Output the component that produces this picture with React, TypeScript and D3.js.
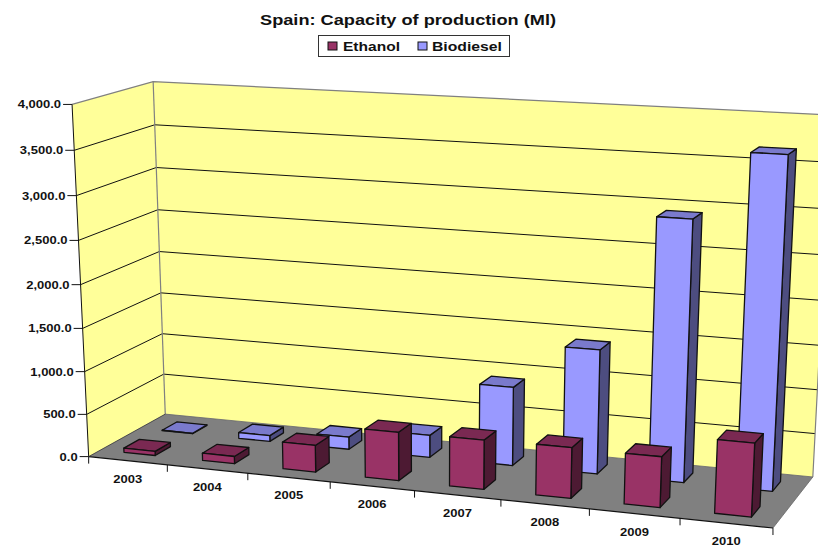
import React from "react";
import * as d3 from "d3";

const W = 818;
const H = 547;

const years = ["2003", "2004", "2005", "2006", "2007", "2008", "2009", "2010"];
const ethanol = [50, 85, 310, 555, 560, 570, 565, 810];
const biodiesel = [5, 70, 145, 260, 910, 1420, 2930, 3670];
const valueTicks = [0, 500, 1000, 1500, 2000, 2500, 3000, 3500, 4000];

const COLORS = {
  wall: "#ffff99",
  floor: "#808080",
  ethanol: { front: "#993366", top: "#7a2952", side: "#4d1a33" },
  biodiesel: { front: "#9999ff", top: "#7a7acc", side: "#4d4d80" },
};

// Calibration of the 3D box: (category, depth, height) in unit space to screen position.
const anchors: [number, number, number, number, number][] = [
  [0, 0, 0, 89, 457],
  [1, 0, 0, 773, 528],
  [0, 1, 0, 165, 414],
  [1, 1, 0, 813, 477],
  [0, 0, 1, 72, 104],
  [0, 1, 1, 153, 82],
  [1, 1, 1, 832, 116],
  [0.125, 0, 0, 168, 465],
  [0.5, 0, 0, 414, 491],
  [0.75, 0, 0, 589, 509],
  [0, 0, 0.5, 80.5, 284],
  [1, 1, 0.5, 822, 299],
];

function solve(A: number[][], b: number[]): number[] {
  const n = b.length;
  const M = A.map((row, i) => [...row, b[i]]);
  for (let c = 0; c < n; c++) {
    let p = c;
    for (let r = c + 1; r < n; r++) if (Math.abs(M[r][c]) > Math.abs(M[p][c])) p = r;
    [M[c], M[p]] = [M[p], M[c]];
    for (let r = 0; r < n; r++) {
      if (r === c) continue;
      const f = M[r][c] / M[c][c];
      for (let k = c; k <= n; k++) M[r][k] -= f * M[c][k];
    }
  }
  return M.map((row, i) => row[n] / row[i]);
}

// Least-squares fit of a 3x4 projection matrix with its last element fixed to 1.
function fitProjection(): number[] {
  const rows: number[][] = [];
  const rhs: number[] = [];
  for (const [u, v, h, x, y] of anchors) {
    rows.push([u, v, h, 1, 0, 0, 0, 0, -x * u, -x * v, -x * h]);
    rhs.push(x);
    rows.push([0, 0, 0, 0, u, v, h, 1, -y * u, -y * v, -y * h]);
    rhs.push(y);
  }
  const n = 11;
  const AtA = d3.range(n).map((i) => d3.range(n).map((j) => d3.sum(rows, (r) => r[i] * r[j])));
  const Atb = d3.range(n).map((i) => d3.sum(rows, (r, k) => r[i] * rhs[k]));
  return solve(AtA, Atb);
}

const m = fitProjection();
const project = (u: number, v: number, h: number): [number, number] => {
  const w = m[8] * u + m[9] * v + m[10] * h + 1;
  return [
    (m[0] * u + m[1] * v + m[2] * h + m[3]) / w,
    (m[4] * u + m[5] * v + m[6] * h + m[7]) / w,
  ];
};

const catScale = d3.scaleBand<string>().domain(years).range([0, 1]).paddingInner(0).paddingOuter(0);
const heightScale = d3.scaleLinear().domain([0, 4000]).range([0, 1]);
const line = d3.line();
const poly = (pts: [number, number][]) => (line(pts) as string) + "Z";

const BAR_FRACTION = 0.4;
const rows = [
  { key: "biodiesel", values: biodiesel, v0: 0.65, v1: 0.85, colors: COLORS.biodiesel },
  { key: "ethanol", values: ethanol, v0: 0.15, v1: 0.35, colors: COLORS.ethanol },
];

const textBase = {
  fontFamily: "'Liberation Sans', Arial, sans-serif",
  fontWeight: 700,
  fill: "#111",
};

// Axis labels are set slightly wider than the font's natural Arial-metric width.
const labelWidth = (s: string, size: number) =>
  d3.sum(Array.from(s), (ch) => (/[0-9]/.test(ch) ? 0.556 : 0.278)) * size * 1.13;

export default function App() {
  const cw = catScale.bandwidth();
  return (
    <svg
      width={W}
      height={H}
      viewBox={`0 0 ${W} ${H}`}
      style={{ position: "absolute", left: 0, top: 0, background: "#fff" }}
    >
      {/* Walls and floor */}
      <path d={poly([project(0, 0, 0), project(0, 1, 0), project(0, 1, 1), project(0, 0, 1)])} fill={COLORS.wall} />
      <path d={poly([project(0, 1, 0), project(1, 1, 0), project(1, 1, 1), project(0, 1, 1)])} fill={COLORS.wall} />
      <path d={poly([project(0, 0, 0), project(1, 0, 0), project(1, 1, 0), project(0, 1, 0)])} fill={COLORS.floor} />

      {/* Gridlines on both walls */}
      {valueTicks.slice(1, -1).map((t) => {
        const h = heightScale(t);
        return (
          <path
            key={t}
            d={line([project(0, 0, h), project(0, 1, h), project(1, 1, h)]) as string}
            fill="none"
            stroke="#111"
            strokeWidth={1}
          />
        );
      })}
      <path
        d={line([project(0, 0, 1), project(0, 1, 1), project(1, 1, 1), project(1, 1, 0)]) as string}
        fill="none"
        stroke="#808080"
        strokeWidth={1.2}
      />
      <path d={line([project(0, 1, 1), project(0, 1, 0)]) as string} fill="none" stroke="#808080" strokeWidth={1.2} />
      <path
        d={line([project(0, 1, 0), project(1, 1, 0), project(1, 0, 0)]) as string}
        fill="none"
        stroke="#666"
        strokeWidth={0.8}
      />

      {/* Value axis */}
      <path d={line([project(0, 0, 0), project(0, 0, 1)]) as string} fill="none" stroke="#111" strokeWidth={1} />
      <path d={line([project(0, 0, 0), project(1, 0, 0)]) as string} fill="none" stroke="#111" strokeWidth={1.2} />
      <path d={line([project(0, 0, 0), project(0, 1, 0)]) as string} fill="none" stroke="#333" strokeWidth={0.8} />
      {valueTicks.map((t) => {
        const [x, y] = project(0, 0, heightScale(t));
        const label = d3.format(",.1f")(t);
        return (
          <g key={t}>
            <line x1={x - 9} x2={x} y1={y} y2={y} stroke="#111" strokeWidth={1} />
            <text
              {...textBase}
              x={x - 11}
              y={y + 4}
              fontSize={11.5}
              textAnchor="end"
              textLength={labelWidth(label, 11.5)}
              lengthAdjust="spacingAndGlyphs"
            >
              {label}
            </text>
          </g>
        );
      })}

      {/* Category axis */}
      {d3.range(years.length + 1).map((i) => {
        const [x, y] = project(i * cw, 0, 0);
        return <line key={i} x1={x} x2={x} y1={y} y2={y + 7} stroke="#111" strokeWidth={1} />;
      })}
      {years.map((yr) => {
        const [x, y] = project((catScale(yr) as number) + cw / 2, 0, 0);
        return (
          <text
            {...textBase}
            key={yr}
            x={x}
            y={y + 22}
            fontSize={11.5}
            textAnchor="middle"
            textLength={labelWidth(yr, 11.5)}
            lengthAdjust="spacingAndGlyphs"
          >
            {yr}
          </text>
        );
      })}

      {/* Columns, back row first */}
      {rows.map((row) =>
        years.map((yr, i) => {
          const c = (catScale(yr) as number) + cw / 2;
          const u0 = c - (cw * BAR_FRACTION) / 2;
          const u1 = c + (cw * BAR_FRACTION) / 2;
          const h = heightScale(row.values[i]);
          const { v0, v1, colors } = row;
          return (
            <g key={row.key + yr} stroke="#111" strokeWidth={1.3} strokeLinejoin="round">
              <path fill={colors.side} d={poly([project(u1, v0, 0), project(u1, v1, 0), project(u1, v1, h), project(u1, v0, h)])} />
              <path fill={colors.top} d={poly([project(u0, v0, h), project(u1, v0, h), project(u1, v1, h), project(u0, v1, h)])} />
              <path fill={colors.front} d={poly([project(u0, v0, 0), project(u1, v0, 0), project(u1, v0, h), project(u0, v0, h)])} />
            </g>
          );
        })
      )}

      {/* Title */}
      <text {...textBase} x={408} y={25} fontSize={15.5} textAnchor="middle" textLength={296} lengthAdjust="spacingAndGlyphs">
        Spain: Capacity of production (Ml)
      </text>

      {/* Legend */}
      <rect x={318.5} y={35.5} width={191} height={21} fill="#fff" stroke="#333" strokeWidth={1} />
      <rect x={328} y={42} width={9} height={8} fill={COLORS.ethanol.front} stroke="#111" strokeWidth={1} />
      <text {...textBase} x={343} y={50.5} fontSize={12.5} textLength={57} lengthAdjust="spacingAndGlyphs">
        Ethanol
      </text>
      <rect x={418} y={42} width={9} height={8} fill={COLORS.biodiesel.front} stroke="#111" strokeWidth={1} />
      <text {...textBase} x={432} y={50.5} fontSize={12.5} textLength={70} lengthAdjust="spacingAndGlyphs">
        Biodiesel
      </text>
    </svg>
  );
}
